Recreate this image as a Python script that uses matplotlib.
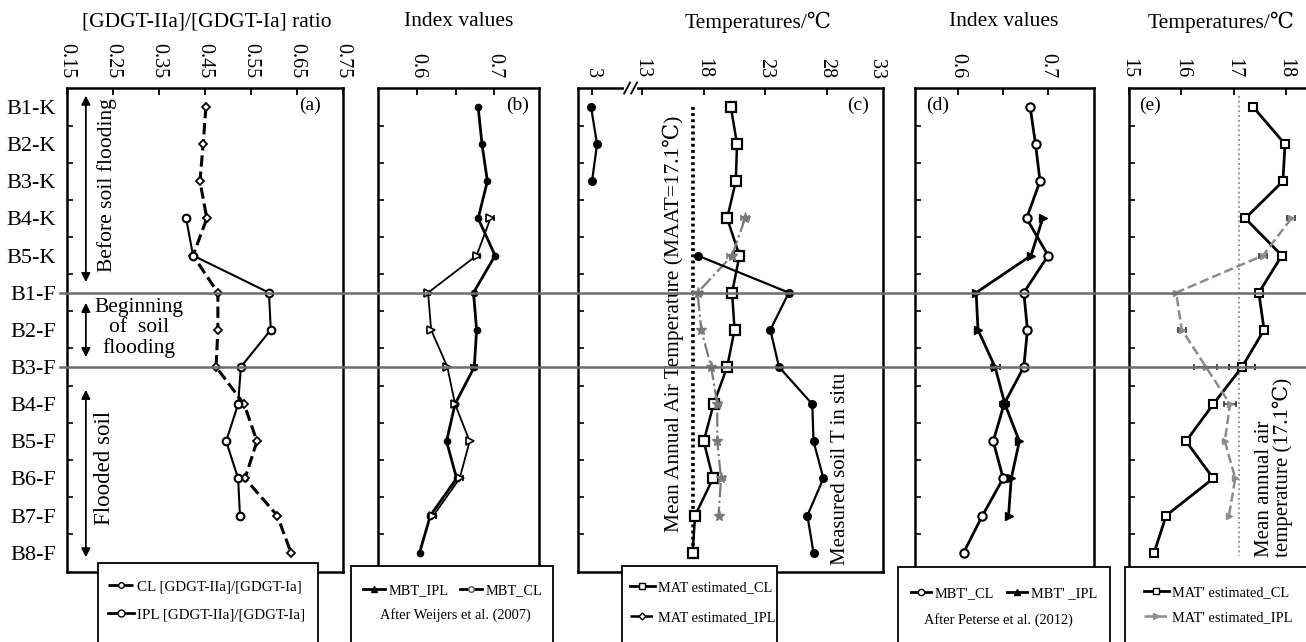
import numpy as np
import matplotlib
matplotlib.use('Agg')
import matplotlib.pyplot as plt
from matplotlib.lines import Line2D
from matplotlib.patches import Rectangle
import matplotlib.transforms as mtransforms

plt.rcParams['font.family'] = ['Liberation Serif', 'DejaVu Serif', 'Noto Sans CJK SC']

nan = np.nan
rows = ['B1-K', 'B2-K', 'B3-K', 'B4-K', 'B5-K', 'B1-F', 'B2-F', 'B3-F',
        'B4-F', 'B5-F', 'B6-F', 'B7-F', 'B8-F']

# (a) [GDGT-IIa]/[GDGT-Ia] ratio
ratio_CL = [0.452, 0.446, 0.439, 0.454, 0.424, 0.478, 0.478, 0.474, 0.535, 0.563, 0.537, 0.607, 0.637]
ratio_IPL = [nan, nan, nan, 0.409, 0.424, 0.589, 0.593, 0.528, 0.522, 0.496, 0.522, 0.526, nan]

# (b) MBT (Weijers et al. 2007)
mbt_CL = [0.679, 0.684, 0.691, 0.679, 0.701, 0.673, 0.677, 0.674, 0.649, 0.638, 0.651, 0.617, 0.603]
mbt_CL_err = [nan, nan, nan, nan, nan, nan, nan, 0.004, nan, nan, nan, 0.003, nan]
mbt_IPL = [nan, nan, nan, 0.695, 0.677, 0.614, 0.618, 0.639, 0.649, 0.668, 0.655, 0.621, nan]
mbt_IPL_err = [nan, nan, nan, 0.004, 0.005, 0.003, nan, nan, nan, nan, 0.004, 0.003, nan]

# (c) temperatures
mat_CL = [20.2, 20.7, 20.6, 19.9, 20.9, 20.3, 20.5, 19.9, 18.8, 18.0, 18.75, 17.3, 17.1]
mat_IPL = [nan, nan, nan, 21.35, 20.3, 17.5, 17.8, 18.6, 19.1, 19.1, 19.4, 19.2, nan]
mat_IPL_err = [nan, nan, nan, 0.3, 0.4, 0.4, nan, nan, 0.3, nan, 0.3, nan, nan]
soil_T = [2.8, 4.0, 3.0, nan, 17.5, 24.9, 23.4, 24.1, 26.8, 26.9, 27.7, 26.4, 26.9]
MAAT = 17.1

# (d) MBT' (Peterse et al. 2012)
mbtp_CL = [0.680, 0.686, 0.691, 0.676, 0.700, 0.673, 0.677, 0.673, 0.651, 0.639, 0.650, 0.627, 0.606]
mbtp_CL_err = [nan, nan, nan, nan, nan, nan, nan, 0.003, 0.003, nan, nan, nan, nan]
mbtp_IPL = [nan, nan, nan, 0.694, 0.681, 0.620, 0.622, 0.641, 0.652, 0.668, 0.659, 0.656, nan]
mbtp_IPL_err = [nan, nan, nan, nan, nan, nan, nan, 0.005, 0.005, nan, nan, nan, nan]

# (e) MAT' estimated
matp_CL = [17.37, 17.98, 17.94, 17.22, 17.92, 17.48, 17.58, 17.16, 16.61, 16.09, 16.61, 15.71, 15.48]
matp_CL_err = [nan, nan, nan, nan, nan, nan, 0.06, 0.25, nan, nan, 0.05, nan, nan]
matp_IPL = [nan, nan, nan, 18.1, 17.56, 15.9, 16.01, 16.47, 16.93, 16.83, 17.03, 16.91, nan]
matp_IPL_err = [nan, nan, nan, 0.08, 0.08, nan, 0.08, 0.22, 0.12, nan, nan, nan, nan]

yrows = np.arange(len(rows))

W, H = 1306, 642
fig = plt.figure(figsize=(W / 100, H / 100), dpi=100)


def rect(x0, x1):
    return [x0 / W, 1 - 572 / H, (x1 - x0) / W, (572 - 88) / H]


TICK_FS = 14.5


def setup(ax, xlim, xticks, xlabels, minor=None):
    ax.set_ylim(12.52, -0.51)
    ax.set_xlim(*xlim)
    ax.xaxis.tick_top()
    ax.set_xticks(xticks)
    ax.set_xticklabels(xlabels)
    if minor is not None:
        ax.set_xticks(minor, minor=True)
    ax.tick_params(axis='x', which='both', direction='in', top=True, bottom=False,
                   labeltop=True, labelbottom=False, labelrotation=-90,
                   pad=7, labelsize=TICK_FS, length=5, width=1.3)
    ax.set_yticks(yrows)
    ax.set_yticklabels([])
    ax.set_yticks(np.arange(0.5, 12, 1), minor=True)
    ax.tick_params(axis='y', which='major', length=0)
    ax.tick_params(axis='y', which='minor', direction='in', length=4, width=1.2,
                   left=True, right=False)
    for s in ax.spines.values():
        s.set_linewidth(1.8)


def errs(ax, x, e, color='black'):
    x = np.asarray(x, float)
    e = np.asarray(e, float)
    m = ~np.isnan(e)
    ax.errorbar(x[m], yrows[m], xerr=e[m], fmt='none', ecolor=color, elinewidth=1.2,
                capsize=2.5, capthick=1.2, zorder=3)


# ---------------- (a)
axA = fig.add_axes(rect(67, 343))
setup(axA, (0.15, 0.75), np.arange(0.15, 0.76, 0.1),
      ['0.15', '0.25', '0.35', '0.45', '0.55', '0.65', '0.75'])
axA.set_yticklabels(rows)
axA.tick_params(axis='y', which='major', labelsize=16, pad=8)
axA.plot(ratio_CL, yrows, ls='--', color='black', lw=2.2, marker='D', ms=4.5,
         mfc='white', mec='black', mew=1.3, zorder=4)
axA.plot(ratio_IPL, yrows, ls='-', color='black', lw=1.5, marker='o', ms=5.5,
         mfc='white', mec='black', mew=1.5, zorder=4)
axA.text(0.678, -0.05, '(a)', fontsize=14, ha='center', va='center')
arrow_kw = dict(arrowstyle='<|-|>', color='black', lw=1.3, mutation_scale=13)
axA.annotate('', xy=(0.191, -0.38), xytext=(0.191, 4.79), arrowprops=arrow_kw)
axA.annotate('', xy=(0.191, 5.2), xytext=(0.191, 6.81), arrowprops=arrow_kw)
axA.annotate('', xy=(0.191, 7.54), xytext=(0.191, 12.2), arrowprops=arrow_kw)
axA.text(0.236, 2.1, 'Before soil flooding', rotation=90, fontsize=15.5,
         ha='center', va='center')
axA.text(0.3065, 5.95, 'Beginning\nof  soil\nflooding', fontsize=15.5,
         ha='center', va='center', linespacing=1.05)
axA.text(0.231, 9.72, 'Flooded soil', rotation=90, fontsize=16.5,
         ha='center', va='center')

# ---------------- (b)
axB = fig.add_axes(rect(378, 539))
setup(axB, (0.549, 0.758), [0.6, 0.7], ['0.6', '0.7'], minor=[0.65])
axB.plot(mbt_CL, yrows, ls='-', color='black', lw=2.0, marker='o', ms=4.5,
         mfc='black', mec='black', zorder=4)
axB.plot(mbt_IPL, yrows, ls='-', color='black', lw=1.3, marker='>', ms=5.5,
         mfc='white', mec='black', mew=1.2, zorder=4)
errs(axB, mbt_CL, mbt_CL_err)
errs(axB, mbt_IPL, mbt_IPL_err)
axB.text(0.73, -0.05, '(b)', fontsize=14, ha='center', va='center')

# ---------------- (c) broken axis
BRK = 13.0
RC = 0.405


def fwd(v):
    v = np.asarray(v, dtype=float)
    return np.where(v >= BRK, v, BRK - (BRK - v) * RC)


def inv(v):
    v = np.asarray(v, dtype=float)
    return np.where(v >= BRK, v, BRK - (BRK - v) / RC)


axC = fig.add_axes(rect(578, 883))
axC.set_xscale('function', functions=(fwd, inv))
setup(axC, (0.19, 32.53), [3, 13, 18, 23, 28], ['3', '13', '18', '23', '28'])
axC.text(0.98, 1.0 + 9.0 / 484, '33', transform=axC.transAxes, rotation=-90,
         fontsize=TICK_FS, ha='center', va='bottom')
axC.plot([MAAT, MAAT], [0, 12], ls=(0, (0.8, 0.9)), color='black', lw=2.6, zorder=2)
axC.plot(mat_CL, yrows, ls='-', color='black', lw=1.8, marker='s', ms=6.5,
         mfc='white', mec='black', mew=1.6, zorder=4)
axC.plot(mat_IPL, yrows, ls='-.', color='#7a7a7a', lw=1.6, marker='*', ms=8,
         mfc='#7a7a7a', mec='#7a7a7a', zorder=4)
errs(axC, mat_IPL, mat_IPL_err, color='#7a7a7a')
axC.plot(soil_T, yrows, ls='-', color='black', lw=1.6, marker='o', ms=5.5,
         mfc='black', mec='black', zorder=4)
axC.text(30.5, -0.05, '(c)', fontsize=14, ha='center', va='center')
axC.text(15.5, 11.44, 'Mean Annual Air Temperature (MAAT=17.1℃)', rotation=90,
         fontsize=15.5, ha='center', va='bottom')
axC.text(29.05, 12.33, 'Measured soil T in situ', rotation=90,
         fontsize=15, ha='center', va='bottom')
# axis break marks
axC.plot([0.158, 0.188], [1.0, 1.0], transform=axC.transAxes, color='white',
         lw=3, clip_on=False, zorder=10)
for xf in (0.161, 0.184):
    axC.plot([xf - 0.0098, xf + 0.0098], [1.0 - 0.0114, 1.0 + 0.0114],
             transform=axC.transAxes, color='black', lw=1.3, clip_on=False, zorder=11)

# ---------------- (d)
axD = fig.add_axes(rect(915, 1094))
setup(axD, (0.552, 0.751), [0.6, 0.7], ['0.6', '0.7'], minor=[0.65])
axD.plot(mbtp_CL, yrows, ls='-', color='black', lw=2.0, marker='o', ms=6,
         mfc='white', mec='black', mew=1.5, zorder=4)
axD.plot(mbtp_IPL, yrows, ls='-', color='black', lw=2.0, marker='>', ms=6,
         mfc='black', mec='black', zorder=4)
errs(axD, mbtp_CL, mbtp_CL_err)
errs(axD, mbtp_IPL, mbtp_IPL_err)
axD.text(0.577, -0.05, '(d)', fontsize=14, ha='center', va='center')

# ---------------- (e)
axE = fig.add_axes(rect(1129, 1307))
setup(axE, (15.0, 18.4), [15, 16, 17, 18], ['15', '16', '17', '18'])
axE.plot([MAAT, MAAT], [-0.3, 12.1], ls=':', color='#8a8a8a', lw=1.3, zorder=2)
axE.plot(matp_CL, yrows, ls='-', color='black', lw=2.0, marker='s', ms=6,
         mfc='white', mec='black', mew=1.5, zorder=4)
axE.plot(matp_IPL, yrows, ls='--', color='#8c8c8c', lw=1.8, marker='>', ms=4.5,
         mfc='#8c8c8c', mec='#8c8c8c', zorder=4)
errs(axE, matp_CL, matp_CL_err)
errs(axE, matp_IPL, matp_IPL_err, color='#333333')
axE.text(15.4, -0.05, '(e)', fontsize=14, ha='center', va='center')
axE.text(17.77, 12.12, 'Mean annual air\ntemperature (17.1℃)', rotation=90,
         fontsize=15, ha='center', va='bottom', multialignment='left',
         linespacing=0.95)

# ---------------- horizontal separators across the figure
blend = mtransforms.blended_transform_factory(fig.transFigure, axA.transData)
for r in (5, 7):
    fig.add_artist(Line2D([60 / W, 1.0], [r, r], transform=blend,
                          color='#6e6e6e', lw=1.8, zorder=3))

# ---------------- titles
TFS = 15.5
for txt, xc in [('[GDGT-IIa]/[GDGT-Ia] ratio', 207), ('Index values', 459),
                ('Temperatures/℃', 758), ('Index values', 1004),
                ('Temperatures/℃', 1221)]:
    fig.text(xc / W, 1 - 22 / H, txt, fontsize=TFS, ha='center', va='center')


# ---------------- legend boxes
def box(x0, x1, y0):
    fig.add_artist(Rectangle((x0 / W, -0.02), (x1 - x0) / W, 1 - y0 / H + 0.02,
                             transform=fig.transFigure, facecolor='white',
                             edgecolor='black', lw=1.3, zorder=5))


LFS = 10.4
box(98, 318, 563)
box(351, 553, 566)
box(622, 777, 566)
box(898, 1110, 567)
box(1125, 1320, 567)


def legend(handles, labels, x, ytop, ncol=1, hl=1.7, spacing=1.0, colsp=0.7, fs=LFS):
    lg = fig.legend(handles, labels, loc='upper left',
                    bbox_to_anchor=(x / W, 1 - ytop / H), frameon=False,
                    fontsize=fs, ncol=ncol, handlelength=hl, handletextpad=0.25,
                    labelspacing=spacing, columnspacing=colsp, borderpad=0,
                    borderaxespad=0)
    lg.set_zorder(7)
    return lg


hA1 = Line2D([], [], ls='--', color='black', lw=2.0, marker='o', ms=4, mfc='white', mec='black')
hA2 = Line2D([], [], ls='-', color='black', lw=2.0, marker='o', ms=5, mfc='white', mec='black')
legend([hA1, hA2], ['CL [GDGT-IIa]/[GDGT-Ia]', 'IPL [GDGT-IIa]/[GDGT-Ia]'], 108, 580,
       spacing=0.95, fs=10.8)

hB1 = Line2D([], [], ls='-', color='black', lw=2.0, marker='^', ms=4.5, mfc='black', mec='black')
hB2 = Line2D([], [], ls='-', color='black', lw=2.0, marker='o', ms=4, mfc='white', mec='#555555')
legend([hB1, hB2], ['MBT_IPL', 'MBT_CL'], 363, 584, ncol=2, hl=1.5, colsp=0.8)
fig.text(455 / W, 1 - 615 / H, 'After Weijers et al. (2007)', fontsize=LFS,
         ha='center', va='center', zorder=8)

hC1 = Line2D([], [], ls='-', color='black', lw=2.0, marker='s', ms=4.5, mfc='white', mec='black')
hC2 = Line2D([], [], ls='--', color='black', lw=1.8, marker='D', ms=3.5, mfc='white', mec='black')
legend([hC1, hC2], ['MAT estimated_CL', 'MAT estimated_IPL'], 630, 581, spacing=1.15)

hD1 = Line2D([], [], ls='-', color='black', lw=2.0, marker='o', ms=4.5, mfc='white', mec='black')
hD2 = Line2D([], [], ls='-', color='black', lw=2.0, marker='^', ms=5, mfc='black', mec='black')
legend([hD1, hD2], ["MBT'_CL", "MBT' _IPL"], 911, 587, ncol=2, hl=1.4, colsp=0.9)
fig.text(998 / W, 1 - 620 / H, 'After Peterse et al. (2012)', fontsize=LFS,
         ha='center', va='center', zorder=8)

hE1 = Line2D([], [], ls='-', color='black', lw=2.0, marker='s', ms=5, mfc='white', mec='black')
hE2 = Line2D([], [], ls='--', color='#8c8c8c', lw=1.8, marker='>', ms=4, mfc='#8c8c8c', mec='#8c8c8c')
legend([hE1, hE2], ["MAT' estimated_CL", "MAT' estimated_IPL"], 1144, 586, spacing=0.8)

fig.savefig('out.png', dpi=100)
